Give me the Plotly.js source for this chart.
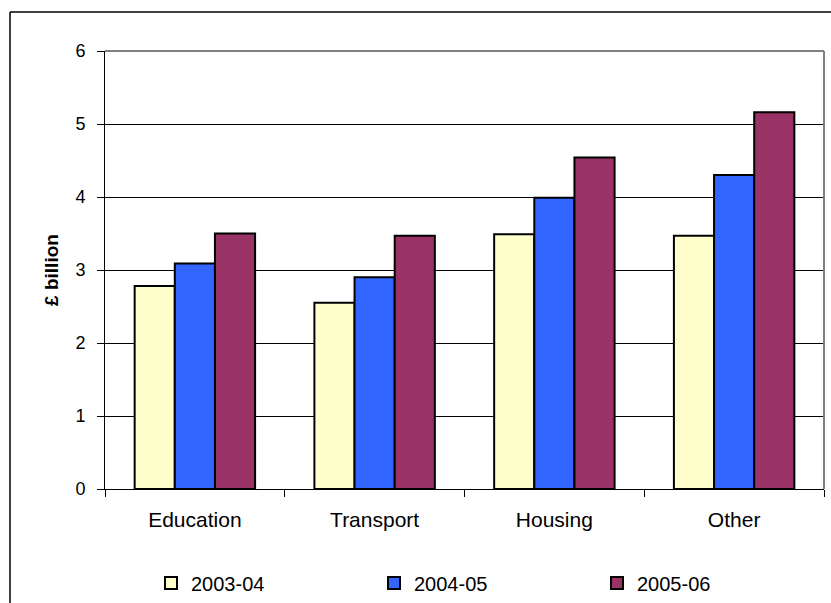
<!DOCTYPE html>
<html>
<head>
<meta charset="utf-8">
<script src="https://cdn.plot.ly/plotly-3.0.1.min.js"></script>
<style>html,body{margin:0;padding:0;background:#fff;}#chart{width:831px;height:603px;}</style>
</head>
<body>
<div id="chart"></div>
<script>
const categories = ["Education", "Transport", "Housing", "Other"];
const seriesNames = ["2003-04", "2004-05", "2005-06"];
const values0304 = [2.78, 2.55, 3.49, 3.47];
const values0405 = [3.09, 2.90, 3.99, 4.30];
const values0506 = [3.50, 3.47, 4.54, 5.16];
const yTicks = [0, 1, 2, 3, 4, 5, 6];
const colors = ["#FFFFCC", "#3366FF", "#993366"];

const allValues = [values0304, values0405, values0506];
const traces = allValues.map((v, i) => ({
  type: "bar",
  name: seriesNames[i],
  x: categories,
  y: v,
  marker: { color: colors[i], line: { color: "#000", width: 2 } },
  hoverinfo: "x+y+name"
}));

const L = 105, R = 824, T = 51, B = 489;
const W = R - L, H = B - T;
const px = x => (x - L) / W;
const py = y => (B - y) / H;

const layout = {
  width: 831, height: 603,
  margin: { l: L, r: 831 - R, t: T, b: 603 - B, autoexpand: false },
  paper_bgcolor: "#fff", plot_bgcolor: "#fff",
  font: { family: "Liberation Sans, Arial, sans-serif", size: 18, color: "#000" },
  barmode: "group",
  bargap: 0.33,
  bargroupgap: 0,
  showlegend: true,
  legend: {
    orientation: "h",
    xref: "container", yref: "container",
    x: 151 / 831, xanchor: "left",
    y: (603 - 583) / 603, yanchor: "middle",
    entrywidth: 178, entrywidthmode: "pixels",
    itemwidth: 30,
    font: { size: 20 },
    traceorder: "normal",
    bgcolor: "rgba(0,0,0,0)"
  },
  xaxis: {
    type: "category",
    showline: true, linecolor: "#000", linewidth: 1,
    ticks: "outside", tickson: "boundaries", ticklen: 7, tickcolor: "#000",
    showgrid: false,
    tickfont: { size: 21 },
    ticklabelstandoff: 12,
    fixedrange: true
  },
  yaxis: {
    range: [0, 6],
    tickvals: yTicks,
    ticktext: yTicks.map(String),
    showline: true, linecolor: "#000", linewidth: 1,
    ticks: "outside", ticklen: 7, tickcolor: "#000",
    showgrid: true, gridcolor: "#000", gridwidth: 1,
    zeroline: false,
    tickfont: { size: 18 },
    ticklabelstandoff: 8,
    title: { text: "<b>£ billion</b>", font: { size: 19 }, standoff: 11 },
    fixedrange: true
  },
  shapes: [
    { type: "line", xref: "paper", yref: "paper", x0: 0, x1: 1, y0: 1, y1: 1, line: { color: "#808080", width: 2 } },
    { type: "line", xref: "paper", yref: "paper", x0: 1, x1: 1, y0: 0, y1: 1, line: { color: "#808080", width: 2 } },
    { type: "line", xref: "paper", yref: "paper", x0: px(10), x1: px(835), y0: py(12), y1: py(12), line: { color: "#000", width: 1.5 } },
    { type: "line", xref: "paper", yref: "paper", x0: px(10), x1: px(10), y0: py(12), y1: py(610), line: { color: "#000", width: 1.5 } }
  ]
};

Plotly.newPlot("chart", traces, layout, { displayModeBar: false, staticPlot: true });
</script>
</body>
</html>
